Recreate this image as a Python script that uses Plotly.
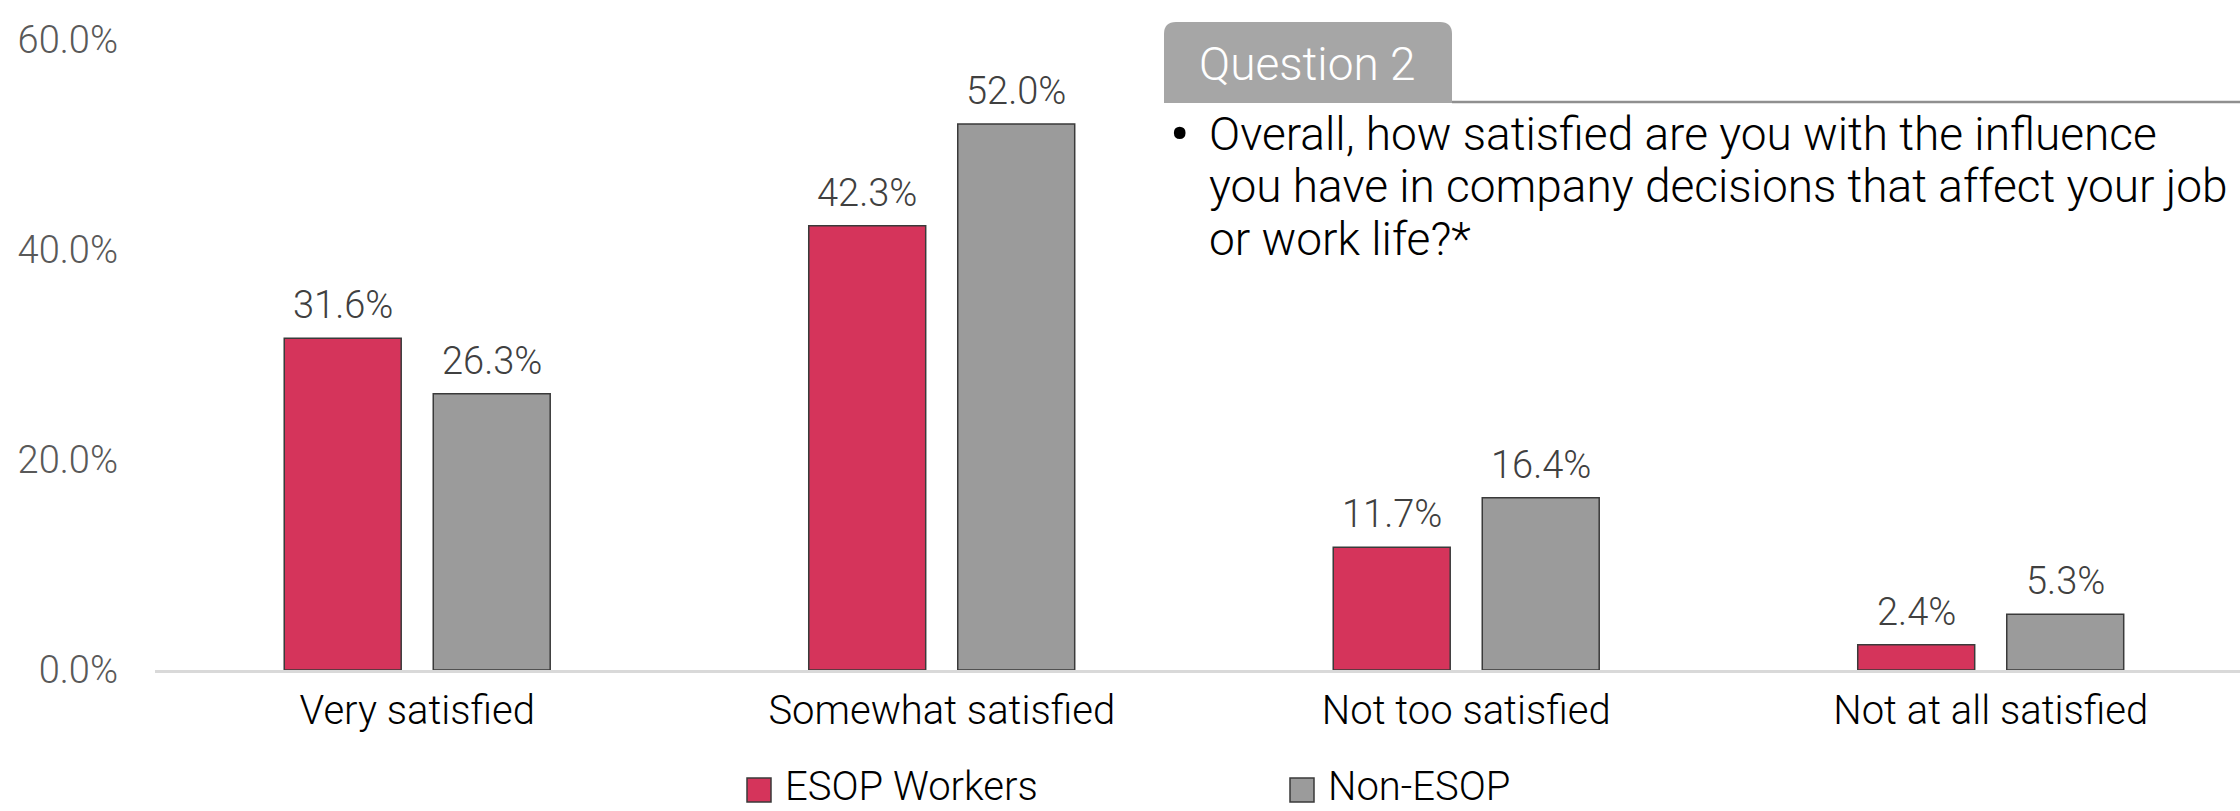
import plotly.graph_objects as go

# Survey responses (% of respondents)
categories = ["Very satisfied", "Somewhat satisfied", "Not too satisfied", "Not at all satisfied"]
esop_values = [31.6, 42.3, 11.7, 2.4]
non_esop_values = [26.3, 52.0, 16.4, 5.3]
series_names = ["ESOP Workers", "Non-ESOP"]
y_tick_values = [0, 20, 40, 60]
y_tick_labels = ["0.0%", "20.0%", "40.0%", "60.0%"]

question_tab = "Question 2"
question_lines = [
    "Overall, how satisfied are you with the influence",
    "you have in company decisions that affect your job",
    "or work life?*",
]

W, H = 2240, 811
ML, MR, MT, MB = 155, 0, 40, 141
PW, PH = W - ML - MR, H - MT - MB

RED = "#D5345B"
GREY = "#9B9B9B"
OUTLINE = "#3a3a3a"
FONT = "Roboto"

BAR_W = 0.223
OFFSETS = [-0.2536, 0.0305]


def px_x(px):
    return (px - ML) / PW


def px_y(py):
    return (H - MB - py) / PH


x_idx = list(range(len(categories)))

fig = go.Figure()
for name, vals, color, off in zip(series_names, [esop_values, non_esop_values], [RED, GREY], OFFSETS):
    fig.add_trace(go.Bar(
        x=x_idx, y=vals, name=name,
        width=BAR_W, offset=off,
        marker=dict(color=color, line=dict(color=OUTLINE, width=1.5)),
        showlegend=False,
    ))
    for xi, v in zip(x_idx, vals):
        fig.add_annotation(
            x=xi + off + BAR_W / 2, y=v, xref="x", yref="y",
            text=f"{v:.1f}%", showarrow=False,
            yanchor="middle", yshift=33,
            font=dict(family=FONT, size=38, color="#404040", weight=300),
        )

shapes = []
annotations = []

# Legend drawn as squares with labels
legend_items = [(747, 783, RED, series_names[0]), (1290, 1326, GREY, series_names[1])]
for sq_x, tx, color, label in legend_items:
    shapes.append(dict(
        type="rect", xref="paper", yref="paper",
        x0=px_x(sq_x), x1=px_x(sq_x + 24), y0=px_y(802), y1=px_y(778),
        fillcolor=color, line=dict(color=OUTLINE, width=1.5),
    ))
    annotations.append(dict(
        x=px_x(tx), y=px_y(786), xref="paper", yref="paper",
        text=label, showarrow=False, xanchor="left", yanchor="middle",
        font=dict(family=FONT, size=40, color="#000000", weight=300),
    ))

# Question tab with rounded top corners
x0, x1, y0, y1, r = 1164, 1452, 22, 103, 12
path = (
    f"M {px_x(x0)},{px_y(y1)} L {px_x(x0)},{px_y(y0 + r)} "
    f"Q {px_x(x0)},{px_y(y0)} {px_x(x0 + r)},{px_y(y0)} "
    f"L {px_x(x1 - r)},{px_y(y0)} "
    f"Q {px_x(x1)},{px_y(y0)} {px_x(x1)},{px_y(y0 + r)} "
    f"L {px_x(x1)},{px_y(y1)} Z"
)
shapes.append(dict(type="path", path=path, xref="paper", yref="paper",
                   fillcolor="#A6A6A6", line=dict(width=0)))
shapes.append(dict(type="line", xref="paper", yref="paper",
                   x0=px_x(x1), x1=px_x(W), y0=px_y(102), y1=px_y(102),
                   line=dict(color="#8F8F8F", width=2.5)))
annotations.append(dict(
    x=px_x(1197), y=px_y(64), xref="paper", yref="paper",
    text=question_tab, showarrow=False, xanchor="left", yanchor="middle",
    font=dict(family=FONT, size=46, color="#FFFFFF", weight=300),
))

# Bulleted question text
annotations.append(dict(
    x=px_x(1168), y=px_y(134), xref="paper", yref="paper",
    text="•", showarrow=False, xanchor="left", yanchor="middle",
    font=dict(family=FONT, size=58, color="#000000", weight=400),
))
for i, line in enumerate(question_lines):
    annotations.append(dict(
        x=px_x(1207), y=px_y(134 + 52.5 * i), xref="paper", yref="paper",
        text=line, showarrow=False, xanchor="left", yanchor="middle",
        font=dict(family=FONT, size=46, color="#000000", weight=300),
    ))

fig.update_layout(
    width=W, height=H,
    margin=dict(l=ML, r=MR, t=MT, b=MB, pad=0),
    paper_bgcolor="white", plot_bgcolor="white",
    barmode="overlay",
    shapes=shapes,
    annotations=list(fig.layout.annotations) + annotations,
    xaxis=dict(
        range=[-0.5, 3.5 - 13 / 524.5],
        tickvals=x_idx, ticktext=categories,
        showgrid=False, zeroline=False,
        showline=True, linecolor="#D9D9D9", linewidth=2.5,
        ticks="", tickfont=dict(family=FONT, size=40, color="#000000", weight=300),
        ticklabelstandoff=3,
    ),
    yaxis=dict(
        range=[0, 60],
        tickvals=y_tick_values, ticktext=y_tick_labels,
        showgrid=False, zeroline=False, showline=False,
        ticks="", tickfont=dict(family=FONT, size=38, color="#595959", weight=300),
        ticklabelstandoff=36,
    ),
)

fig.write_html("out.html")
